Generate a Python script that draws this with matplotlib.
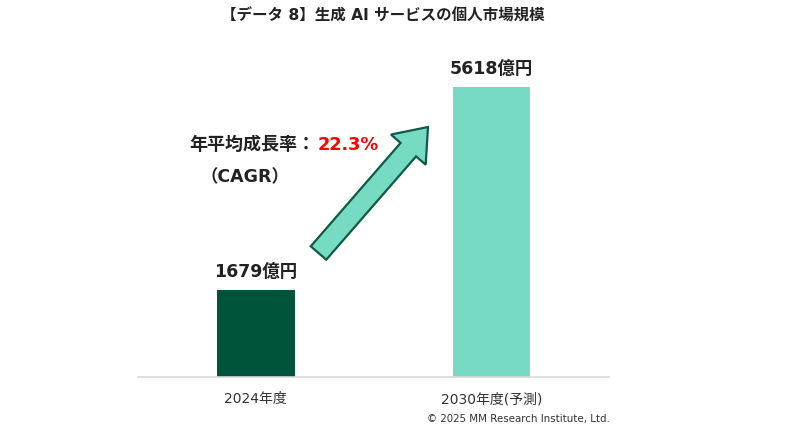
import matplotlib
matplotlib.use("Agg")
import matplotlib.pyplot as plt
from matplotlib.patches import Polygon
import numpy as np

# latin glyphs from DejaVu (Verdana-like), Japanese from Noto CJK
plt.rcParams['font.family'] = ['DejaVu Sans', 'Noto Sans CJK JP']

# data
categories = ["2024年度", "2030年度(予測)"]
values = [1679, 5618]
value_labels = ["1679億円", "5618億円"]
bar_colors = ["#00533B", "#77DBC3"]

title = "【データ 8】生成 AI サービスの個人市場規模"
cagr_label = "年平均成長率："
cagr_value = "22.3%"
credit = "© 2025 MM Research Institute, Ltd."

fig = plt.figure(figsize=(8, 4.33), dpi=100)
ax = fig.add_axes([0.1725, 0.1293, 0.589, 0.715])

x = np.arange(len(categories))
ax.bar(x, values, width=0.33, color=bar_colors)
ax.set_xlim(-0.5, 1.5)
ax.set_ylim(0, 6000)

for xi, v, lab in zip(x, values, value_labels):
    ax.text(xi, v + 180, lab, ha="center", va="bottom", fontsize=12.5,
            fontweight="bold", color="#222222")

ax.set_xticks(x)
ax.set_xticklabels(categories, fontsize=10, color="#333333")
ax.tick_params(axis="x", length=0, pad=11)
ax.set_yticks([])
for s in ["top", "right", "left"]:
    ax.spines[s].set_visible(False)
ax.spines["bottom"].set_color("#d9d9d9")
ax.spines["bottom"].set_linewidth(1.2)

fig.text(0.478, 0.962, title, ha="center", va="center", fontsize=11.2,
         fontweight="bold", color="#222222")

# CAGR text
fig.text(189 / 800, 1 - 145 / 433, cagr_label, ha="left", va="center",
         fontsize=13, fontweight="bold", color="#222222")
fig.text(318 / 800, 1 - 145 / 433, cagr_value, ha="left", va="center",
         fontsize=12.8, fontweight="bold", color="#FF0000")
fig.text(200 / 800, 1 - 177 / 433, "（CAGR）", ha="left", va="center",
         fontsize=12.5, fontweight="bold", color="#222222")

# growth arrow, in pixel coordinates
tail = np.array([318.5, 253.0])
tip = np.array([428.0, 127.0])
d = tip - tail
L = np.hypot(*d)
u = d / L
n = np.array([-u[1], u[0]])
shaft_w, head_w, head_l = 20.5, 46.0, 30.0
base = tip - u * head_l
pts = [tail + n * shaft_w / 2, base + n * shaft_w / 2, base + n * head_w / 2,
       tip, base - n * head_w / 2, base - n * shaft_w / 2, tail - n * shaft_w / 2]
pts = np.array([[p[0] / 100, (433 - p[1]) / 100] for p in pts])
arrow = Polygon(pts, closed=True, facecolor="#77DBC3", edgecolor="#0E5A44",
                linewidth=1.6, transform=fig.dpi_scale_trans)
fig.patches.append(arrow)

fig.text(610 / 800, 1 - 419 / 433, credit, ha="right", va="center",
         fontsize=7.4, color="#333333")

fig.savefig("out.png", dpi=100)
